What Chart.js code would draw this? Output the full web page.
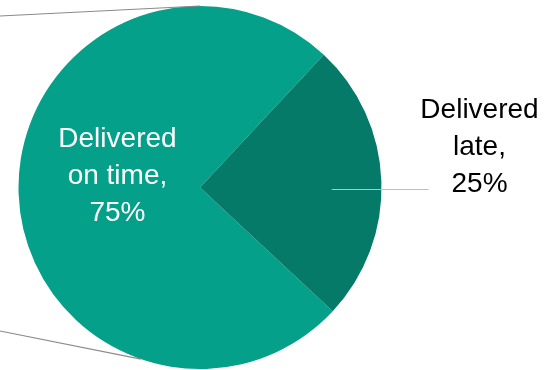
<!DOCTYPE html>
<html>
<head>
<meta charset="utf-8">
<script src="https://cdn.jsdelivr.net/npm/chart.js@4.4.0/dist/chart.umd.min.js"></script>
<style>
  html, body { margin: 0; padding: 0; background: #fff; }
  #wrap { width: 544px; height: 370px; }
</style>
</head>
<body>
<div id="wrap"><canvas id="deliveryChart"></canvas></div>
<script>
// Chart data
const categories = ['Delivered on time', 'Delivered late'];
const shares = [75, 25];
const sliceColors = ['#05a08a', '#067a69'];

// label lines for each slice, drawn by the plugin below
const labelLines = [
    ['Delivered', 'on time,', '75%'],
    ['Delivered', 'late,', '25%']
];

// leftover leader lines running off the left edge (angle on pie in deg, y at x=0)
const strayLeaders = [
    { angle: -90, edgeY: 16 },
    { angle: 109, edgeY: 331 }
];

/**
 * Draws slice labels (inside for big slice, outside with leader for small one)
 */
const sliceLabels = {
    id: 'sliceLabels',
    afterDatasetsDraw(chart) {
        const ctx = chart.ctx;
        const meta = chart.getDatasetMeta(0);
        const lineH = 37;
        ctx.save();
        ctx.font = '28px "Liberation Sans", Arial, sans-serif';
        ctx.textAlign = 'center';
        ctx.textBaseline = 'alphabetic';

        meta.data.forEach((arc, i) => {
            const { x, y, startAngle, endAngle, outerRadius } = arc.getProps(['x', 'y', 'startAngle', 'endAngle', 'outerRadius'], true);
            const mid = (startAngle + endAngle) / 2;
            const lines = labelLines[i];
            if (i === 0) {
                const cx = x + Math.cos(mid) * outerRadius * 0.455;
                const cy = y + Math.sin(mid) * outerRadius * 0.455;
                ctx.fillStyle = '#ffffff';
                lines.forEach((t, k) => {
                    ctx.fillText(t, cx, cy - 43 + k * lineH);
                });
            } else {
                const ly = y + 2;
                ctx.strokeStyle = '#c9bdb1';
                ctx.lineWidth = 1;
                ctx.beginPath();
                ctx.moveTo(x + outerRadius * 0.725, ly);
                ctx.lineTo(x + outerRadius * 1.26, ly);
                ctx.stroke();
                const tx = x + outerRadius * 1.54;
                ctx.fillStyle = '#000000';
                lines.forEach((t, k) => {
                    ctx.fillText(t, tx, ly - 72 + k * lineH);
                });
            }
        });

        // stray grey leaders
        const arc0 = meta.data[0];
        ctx.strokeStyle = '#8a8a8a';
        ctx.lineWidth = 1.2;
        strayLeaders.forEach(s => {
            const a = s.angle * Math.PI / 180;
            ctx.beginPath();
            ctx.moveTo(arc0.x + Math.cos(a) * arc0.outerRadius, arc0.y + Math.sin(a) * arc0.outerRadius);
            ctx.lineTo(0, s.edgeY);
            ctx.stroke();
        });
        ctx.restore();
    }
};

new Chart(document.getElementById('deliveryChart').getContext('2d'), {
    type: 'pie',
    data: {
        labels: categories,
        datasets: [{
            data: shares,
            backgroundColor: sliceColors,
            borderWidth: 0
        }]
    },
    options: {
        responsive: true,
        maintainAspectRatio: false,
        animation: false,
        rotation: 133,
        layout: {
            padding: { left: 18, right: 162, top: 6, bottom: 1 }
        },
        plugins: {
            legend: { display: false },
            tooltip: { enabled: false }
        }
    },
    plugins: [sliceLabels]
});
</script>
</body>
</html>
